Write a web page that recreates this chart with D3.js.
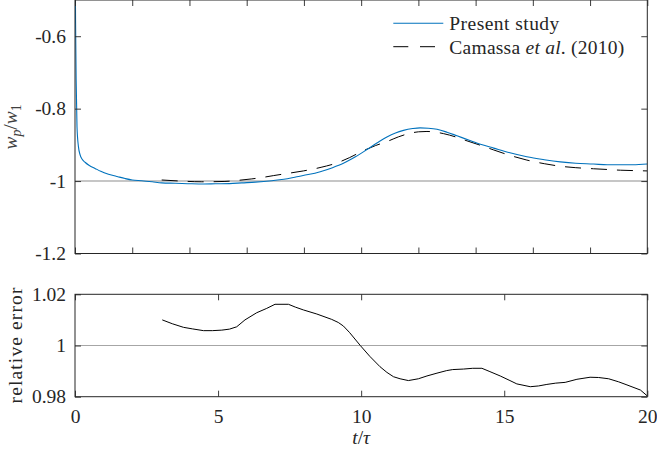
<!DOCTYPE html>
<html>
<head>
<meta charset="utf-8">
<script src="https://cdn.jsdelivr.net/npm/d3@7"></script>
<style>
  html, body { margin: 0; padding: 0; background: #fff; }
  svg { display: block; }
</style>
</head>
<body>
<svg id="chart" width="657" height="458"></svg>
<script>
// Present study: plume front position w_p/w_1 over time t/tau
const presentT = [0, 0.02, 0.04, 0.07, 0.12, 0.18, 0.25, 0.35, 0.5, 0.7, 0.9, 1.17, 1.5, 1.75, 2.0, 2.33, 2.7, 3.03, 3.5, 4.08, 4.5, 4.9, 5.4, 5.83, 6.3, 6.88, 7.3, 7.75, 8.15, 8.57, 9.0, 9.38, 9.8, 10.2, 10.55, 10.9, 11.2, 11.48, 11.8, 12.06, 12.35, 12.65, 13.0, 13.35, 13.8, 14.2, 14.63, 15.2, 15.79, 16.4, 16.96, 17.5, 18.12, 18.6, 19.06, 19.5, 20];
const presentW = [-0.30, -0.56, -0.72, -0.85, -0.905, -0.928, -0.940, -0.948, -0.957, -0.965, -0.973, -0.981, -0.988, -0.993, -0.997, -0.999, -1.002, -1.005, -1.006, -1.0075, -1.008, -1.0075, -1.007, -1.005, -1.003, -0.999, -0.995, -0.988, -0.982, -0.974, -0.963, -0.951, -0.933, -0.913, -0.895, -0.878, -0.867, -0.860, -0.855, -0.853, -0.854, -0.857, -0.865, -0.875, -0.888, -0.899, -0.909, -0.922, -0.933, -0.941, -0.947, -0.951, -0.953, -0.955, -0.955, -0.955, -0.953];

// Camassa et al. (2010)
const camassaT = [3.03, 3.7, 4.43, 5.24, 5.7, 6.18, 6.55, 6.93, 7.5, 7.98, 8.6, 9.15, 9.6, 10.08, 10.5, 10.9, 11.3, 11.71, 12.0, 12.3, 12.6, 12.88, 13.3, 13.7, 14.2, 14.63, 15.2, 15.79, 16.4, 16.96, 17.5, 18.12, 18.6, 19.06, 19.5, 20];
const camassaW = [-0.997, -1.000, -1.002, -1.001, -0.998, -0.994, -0.990, -0.985, -0.978, -0.972, -0.962, -0.950, -0.935, -0.916, -0.902, -0.891, -0.878, -0.868, -0.864, -0.863, -0.865, -0.869, -0.878, -0.889, -0.902, -0.914, -0.929, -0.942, -0.952, -0.959, -0.963, -0.966, -0.968, -0.970, -0.971, -0.972];

// Relative error between the two
const errorT = [3.05, 3.4, 3.79, 4.1, 4.49, 4.8, 5.13, 5.4, 5.65, 5.94, 6.35, 6.7, 6.99, 7.46, 7.7, 7.98, 8.45, 8.97, 9.2, 9.38, 9.6, 9.97, 10.3, 10.66, 10.9, 11.13, 11.36, 11.65, 12.0, 12.3, 12.65, 12.99, 13.2, 13.58, 13.9, 14.22, 14.5, 14.86, 15.2, 15.44, 15.91, 16.2, 16.49, 16.8, 17.13, 17.54, 18.0, 18.3, 18.65, 19.0, 19.29, 19.76, 20];
const errorV = [1.0100, 1.0085, 1.0071, 1.0065, 1.0058, 1.0058, 1.0060, 1.0064, 1.0073, 1.0100, 1.0128, 1.0145, 1.0161, 1.0161, 1.0150, 1.0139, 1.0123, 1.0102, 1.0090, 1.0076, 1.0050, 1.0000, 0.9958, 0.9917, 0.9895, 0.9878, 0.9870, 0.9863, 0.9870, 0.9881, 0.9892, 0.9902, 0.9906, 0.9908, 0.9911, 0.9911, 0.9898, 0.9881, 0.9863, 0.9850, 0.9839, 0.9842, 0.9848, 0.9853, 0.9856, 0.9868, 0.9876, 0.9875, 0.9870, 0.9858, 0.9846, 0.9826, 0.9803];

// Tick values
const topXTicks = [0, 2, 4, 6, 8, 10, 12, 14, 16, 18, 20];
const topYTicks = [-1.2, -1, -0.8, -0.6];
const topYLabels = ["-1.2", "-1", "-0.8", "-0.6"];
const botXTicks = [0, 5, 10, 15, 20];
const botYTicks = [0.98, 1, 1.02];
const botYLabels = ["0.98", "1", "1.02"];

const FONT = 19.5;
const FAMILY = "'Liberation Serif', 'Times New Roman', serif";
const INK = "#262626";
const BLUE = "#0072BD";

const svg = d3.select("#chart").attr("font-family", FAMILY);
svg.append("rect").attr("width", 657).attr("height", 458).attr("fill", "#fff");

const x = d3.scaleLinear().domain([0, 20]).range([75, 647.3]);
const yTop = d3.scaleLinear().domain([-1.2, -0.5]).range([253.5, 0]);
const yBot = d3.scaleLinear().domain([0.98, 1.02]).range([396.7, 294.3]);

const defs = svg.append("defs");
defs.append("clipPath").attr("id", "clipTop").append("rect")
  .attr("x", x(0)).attr("y", yTop(-0.5)).attr("width", x(20) - x(0)).attr("height", yTop(-1.2) - yTop(-0.5));
defs.append("clipPath").attr("id", "clipBot").append("rect")
  .attr("x", x(0)).attr("y", yBot(1.02)).attr("width", x(20) - x(0)).attr("height", yBot(0.98) - yBot(1.02));

function frame(yScale, xTicks, yTicks, yLabels, xLabels) {
  const g = svg.append("g");
  const [y0, y1] = yScale.range();
  const tickLen = 6;
  const axB = d3.axisBottom(x).tickValues(xTicks).tickSizeInner(-tickLen).tickSizeOuter(0).tickPadding(12.5)
    .tickFormat(xLabels ? d3.format("d") : () => "");
  const axT = d3.axisTop(x).tickValues(xTicks).tickSizeInner(-tickLen).tickSizeOuter(0).tickFormat(() => "");
  const axL = d3.axisLeft(yScale).tickValues(yTicks).tickSizeInner(-tickLen).tickSizeOuter(0).tickPadding(9)
    .tickFormat((d, i) => yLabels[i]);
  const axR = d3.axisRight(yScale).tickValues(yTicks).tickSizeInner(-tickLen).tickSizeOuter(0).tickFormat(() => "");
  g.append("g").attr("transform", `translate(0,${y0})`).call(axB);
  g.append("g").attr("transform", `translate(0,${y1})`).call(axT);
  g.append("g").attr("transform", `translate(${x(0)},0)`).call(axL);
  g.append("g").attr("transform", `translate(${x(20)},0)`).call(axR);
  g.selectAll("g").attr("font-family", FAMILY);
  g.selectAll(".domain").remove();
  g.selectAll(".tick line").attr("stroke", INK).attr("stroke-width", 0.9);
  g.selectAll(".tick text").attr("fill", INK).attr("font-size", FONT);
  g.append("rect")
    .attr("x", x(0)).attr("y", y1).attr("width", x(20) - x(0)).attr("height", y0 - y1)
    .attr("fill", "none").attr("stroke", INK).attr("stroke-width", 1);
  return g;
}

// ---- Top panel ----
const topG = svg.append("g");
topG.append("line")
  .attr("x1", x(0)).attr("x2", x(20)).attr("y1", yTop(-1)).attr("y2", yTop(-1))
  .attr("stroke", "#b3b3b3").attr("stroke-width", 1.6);

const present = presentT.map((t, i) => [t, presentW[i]]);
const camassa = camassaT.map((t, i) => [t, camassaW[i]]);
const lineTop = d3.line().x(d => x(d[0])).y(d => yTop(d[1])).curve(d3.curveMonotoneX);

topG.append("path").datum(camassa).attr("clip-path", "url(#clipTop)")
  .attr("d", lineTop).attr("fill", "none").attr("stroke", "#000").attr("stroke-width", 1)
  .attr("stroke-dasharray", "16,10");
topG.append("path").datum(present).attr("clip-path", "url(#clipTop)")
  .attr("d", lineTop).attr("fill", "none").attr("stroke", BLUE).attr("stroke-width", 1.1);

frame(yTop, topXTicks, topYTicks, topYLabels, false);

// Legend
const leg = svg.append("g");
leg.append("line").attr("x1", 393.3).attr("x2", 443.3).attr("y1", 23.3).attr("y2", 23.3)
  .attr("stroke", BLUE).attr("stroke-width", 1.1);
leg.append("text").attr("x", 449.3).attr("y", 30).attr("font-size", FONT).attr("fill", INK)
  .attr("textLength", 110).attr("lengthAdjust", "spacing").text("Present study");
leg.append("line").attr("x1", 393.3).attr("x2", 443.3).attr("y1", 46.7).attr("y2", 46.7)
  .attr("stroke", "#000").attr("stroke-width", 1).attr("stroke-dasharray", "15,11.7");
const camText = leg.append("text").attr("x", 449.3).attr("y", 53.6).attr("font-size", FONT).attr("fill", INK)
  .attr("textLength", 175).attr("lengthAdjust", "spacing");
camText.append("tspan").text("Camassa ");
camText.append("tspan").attr("font-style", "italic").text("et al");
camText.append("tspan").text(". (2010)");

// Top y-axis label: w_p / w_1
const yl = svg.append("text").attr("transform", "translate(16.5,127) rotate(-90)")
  .attr("text-anchor", "middle").attr("font-size", FONT).attr("fill", "#404040");
yl.append("tspan").attr("font-style", "italic").text("w");
yl.append("tspan").attr("font-style", "italic").attr("font-size", FONT * 0.7).attr("dy", 4).text("p");
yl.append("tspan").attr("dy", -4).text("/");
yl.append("tspan").attr("font-style", "italic").text("w");
yl.append("tspan").attr("font-size", FONT * 0.7).attr("dy", 4).text("1");

// ---- Bottom panel ----
const botG = svg.append("g");
botG.append("line")
  .attr("x1", x(0)).attr("x2", x(20)).attr("y1", yBot(1)).attr("y2", yBot(1))
  .attr("stroke", "#a6a6a6").attr("stroke-width", 1.1);
const err = errorT.map((t, i) => [t, errorV[i]]);
botG.append("path").datum(err).attr("clip-path", "url(#clipBot)")
  .attr("d", d3.line().x(d => x(d[0])).y(d => yBot(d[1])))
  .attr("fill", "none").attr("stroke", "#000").attr("stroke-width", 1);

frame(yBot, botXTicks, botYTicks, botYLabels, true);

svg.append("text").attr("transform", "translate(21.5,345.5) rotate(-90)")
  .attr("text-anchor", "middle").attr("font-size", FONT).attr("fill", INK)
  .attr("textLength", 116).attr("lengthAdjust", "spacing").text("relative error");

// x-axis label: t / tau
const xl = svg.append("text").attr("x", x(10)).attr("y", 444).attr("text-anchor", "middle")
  .attr("font-size", FONT).attr("fill", INK);
xl.append("tspan").attr("font-style", "italic").text("t");
xl.append("tspan").text("/");
xl.append("tspan").attr("font-style", "italic").text("τ");
</script>
</body>
</html>
